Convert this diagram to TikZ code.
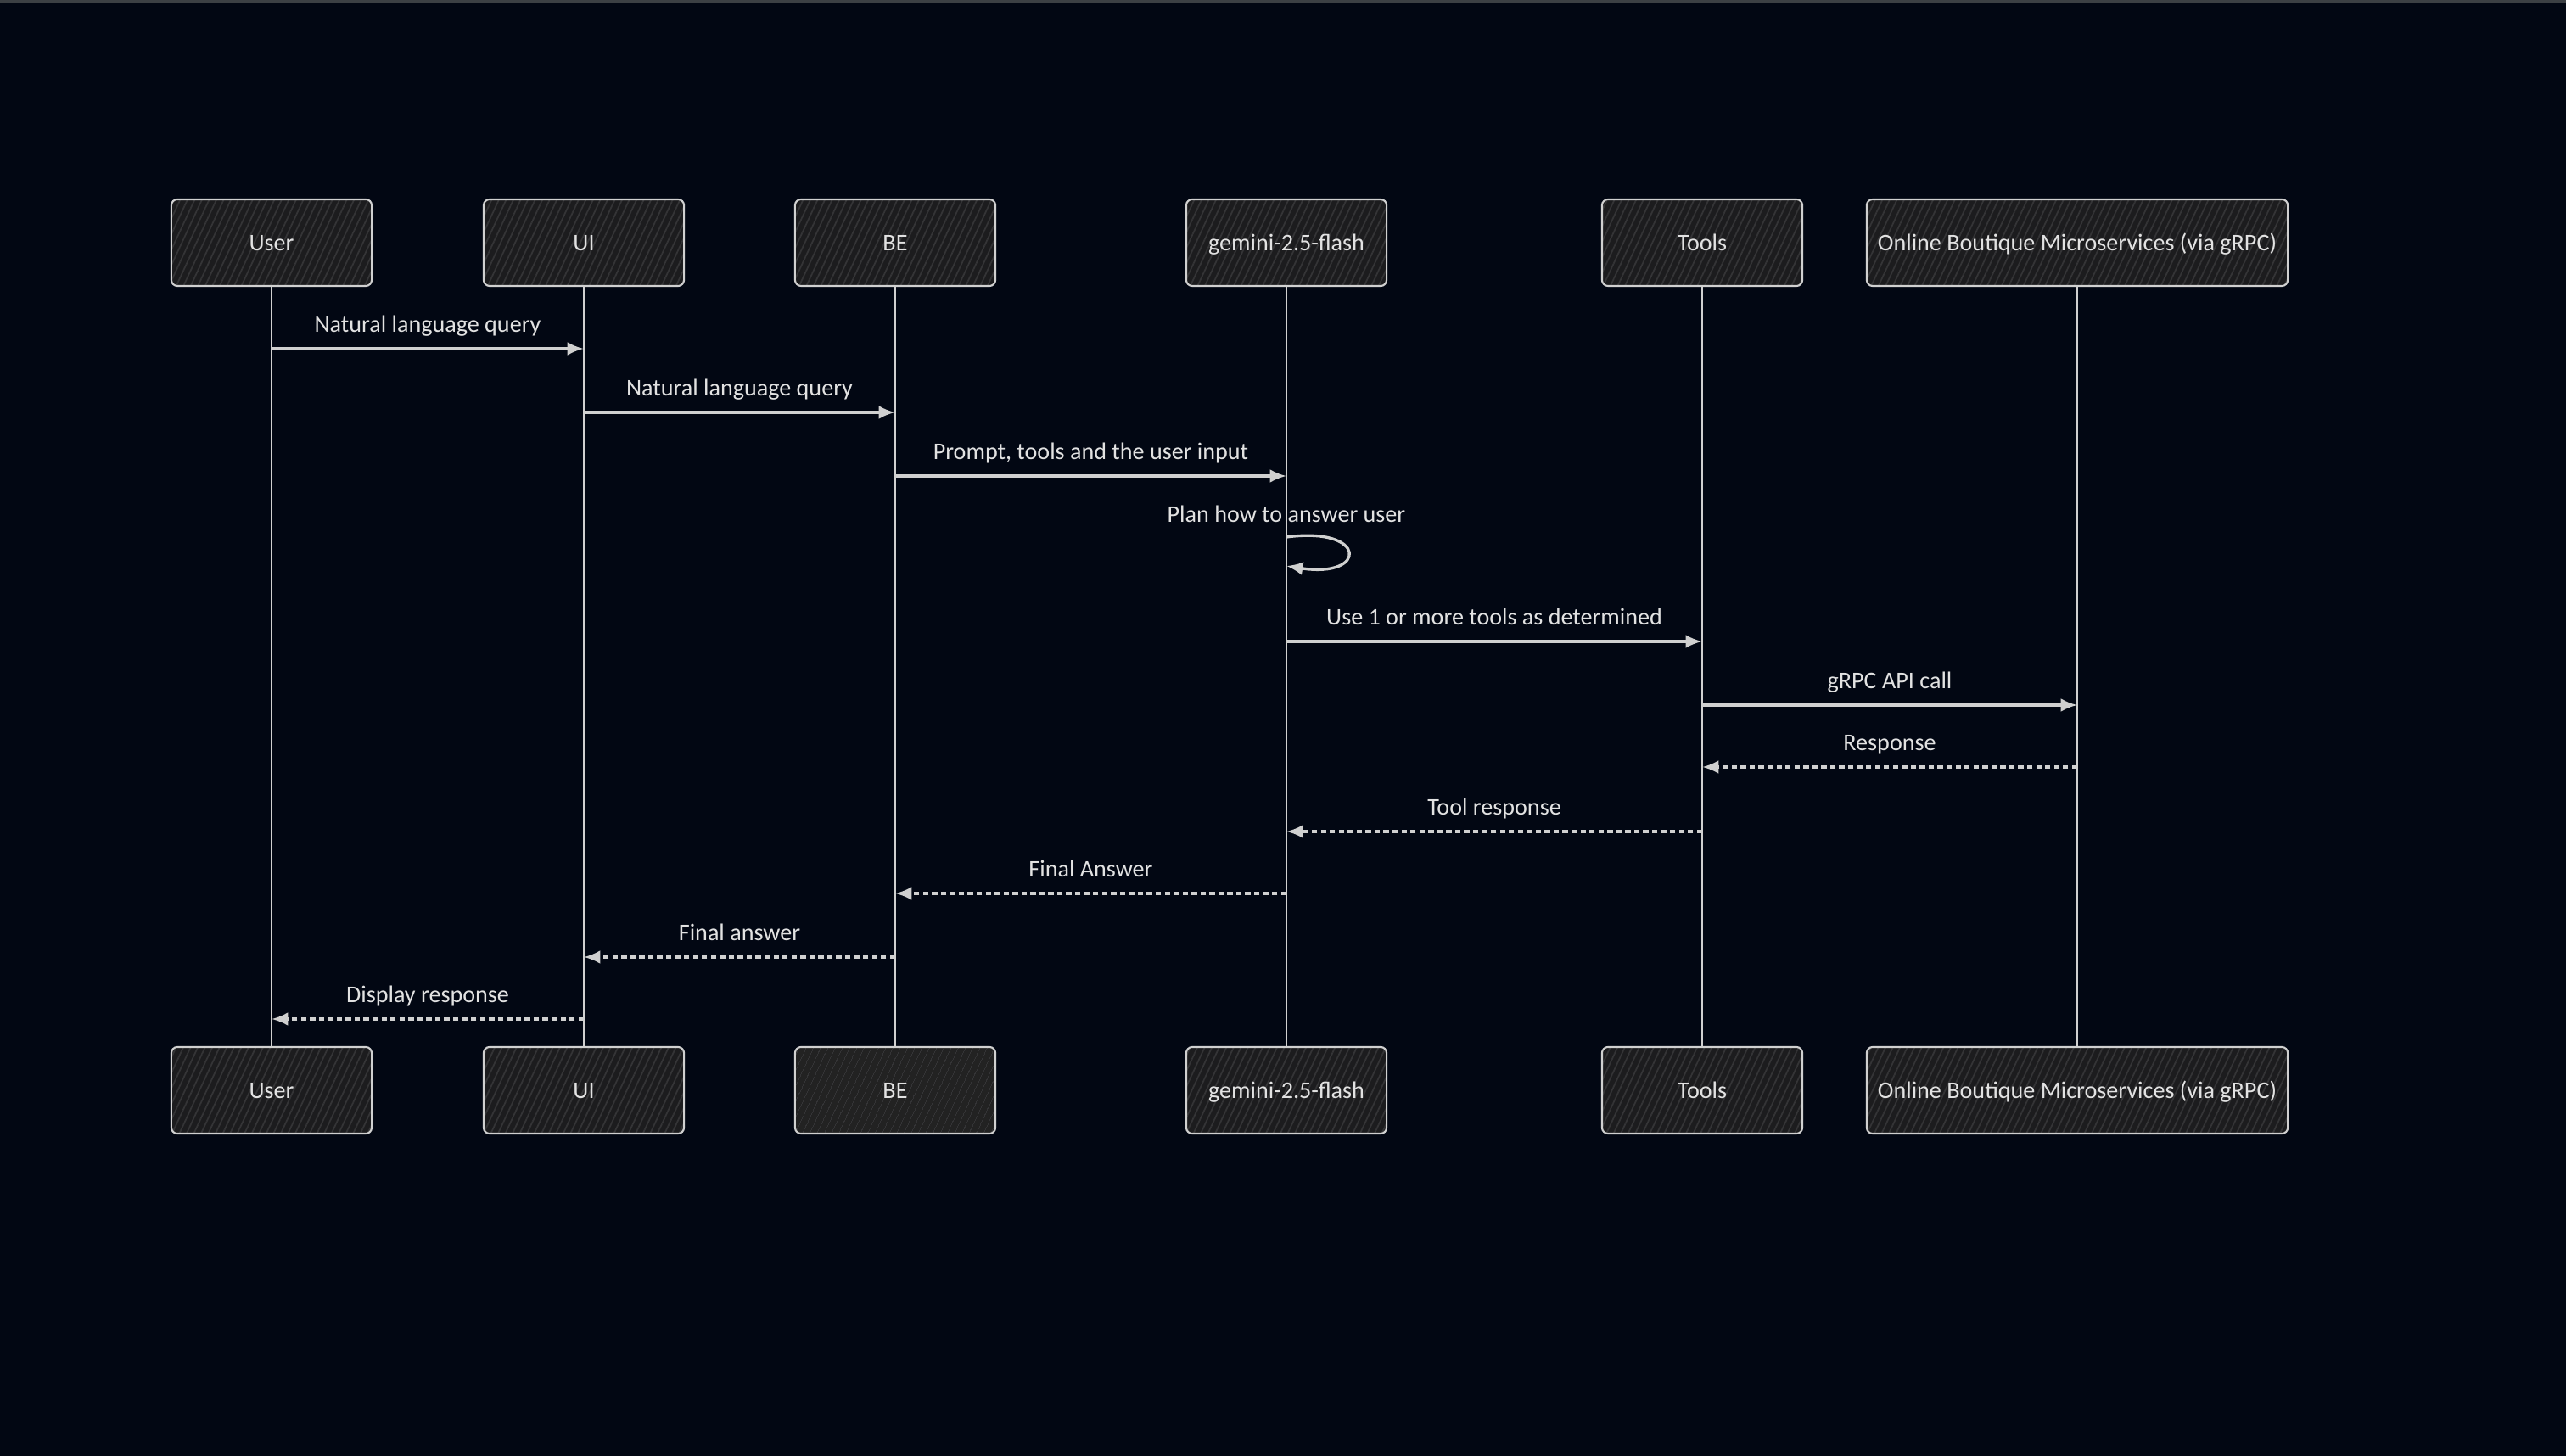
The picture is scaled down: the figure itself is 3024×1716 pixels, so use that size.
\documentclass[tikz,border=0pt]{standalone}
\usepackage{fontspec}
\setmainfont{Carlito}
\usetikzlibrary{arrows.meta,positioning,patterns.meta}

\definecolor{bgdark}{RGB}{2,7,19}
\definecolor{stripgray}{RGB}{60,64,68}
\definecolor{linegray}{RGB}{208,208,208}
\definecolor{textgray}{RGB}{226,226,226}
\definecolor{boxfill}{RGB}{28,28,30}
\definecolor{hatchgray}{RGB}{52,52,54}
\definecolor{solidfill}{RGB}{34,34,34}

\begin{document}
\begin{tikzpicture}[x=0.01cm,y=-0.01cm,
  actor/.style={rectangle,draw=linegray,line width=0.6pt,rounded corners=2pt,
    minimum width=2.36cm,minimum height=1.02cm,text=textgray,
    font=\fontsize{8}{10}\selectfont,text height=1.6ex,text depth=0.45ex,
    preaction={fill=boxfill},pattern={Lines[angle=65,distance=2.2pt,line width=0.5pt]},
    pattern color=hatchgray},
  plainactor/.style={actor,pattern={Lines[angle=65,distance=2.2pt,line width=0pt]},
    preaction={fill=solidfill}},
  life/.style={draw=linegray,line width=0.8pt},
  call/.style={draw=linegray,line width=0.95pt,-{Latex[length=5.5pt,width=4.5pt]}},
  reply/.style={call,dash pattern=on 1.8pt off 1.2pt},
  msgtext/.style={text=textgray,font=\fontsize{8}{10}\selectfont,
    text height=1.6ex,text depth=0.45ex,inner sep=0pt},
  msglabel/.style={msgtext,midway,yshift=0.29cm}]

% canvas
\useasboundingbox (0,0) rectangle (3024,1716);
\fill[bgdark] (0,0) rectangle (3024,1716);
\fill[stripgray] (0,0) rectangle (3024,3);

% participants (top)
\node[actor] (userT) at (320,286) {User};
\node[actor] (uiT) at (688,286) {UI};
\node[actor] (beT) at (1055,286) {BE};
\node[actor] (gemT) at (1516,286) {gemini-2.5-flash};
\node[actor] (toolT) at (2006,286) {Tools};
\node[actor,minimum width=4.96cm] (obT) at (2448,286) {Online Boutique Microservices (via gRPC)};

% participants (bottom)
\node[actor] (userB) at (320,1285) {User};
\node[actor] (uiB) at (688,1285) {UI};
\node[plainactor] (beB) at (1055,1285) {BE};
\node[actor] (gemB) at (1516,1285) {gemini-2.5-flash};
\node[actor] (toolB) at (2006,1285) {Tools};
\node[actor,minimum width=4.96cm] (obB) at (2448,1285) {Online Boutique Microservices (via gRPC)};

% lifelines
\draw[life] (userT.south) -- (userB.north);
\draw[life] (uiT.south) -- (uiB.north);
\draw[life] (beT.south) -- (beB.north);
\draw[life] (gemT.south) -- (gemB.north);
\draw[life] (toolT.south) -- (toolB.north);
\draw[life] (obT.south) -- (obB.north);

% message rows
\coordinate (r1) at (0,411);
\coordinate (r2) at (0,486);
\coordinate (r3) at (0,561);
\coordinate (r4) at (0,633);
\coordinate (r5) at (0,756);
\coordinate (r6) at (0,831);
\coordinate (r7) at (0,904);
\coordinate (r8) at (0,980);
\coordinate (r9) at (0,1053);
\coordinate (r10) at (0,1128);
\coordinate (r11) at (0,1201);

% requests
\draw[call] (userT |- r1) -- node[msglabel] {Natural language query} (uiT |- r1);
\draw[call] (uiT |- r2) -- node[msglabel] {Natural language query} (beT |- r2);
\draw[call] (beT |- r3) -- node[msglabel] {Prompt, tools and the user input} (gemT |- r3);
\draw[call] (gemT |- r4) node[msgtext,yshift=0.27cm] (planlbl) {Plan how to answer user}
  .. controls (1612,620) and (1612,682) .. ([yshift=-0.34cm]gemT |- r4);
\draw[call] (gemT |- r5) -- node[msglabel] {Use 1 or more tools as determined} (toolT |- r5);
\draw[call] (toolT |- r6) -- node[msglabel] {gRPC API call} (obT |- r6);

% responses
\draw[reply] (obT |- r7) -- node[msglabel] {Response} (toolT |- r7);
\draw[reply] (toolT |- r8) -- node[msglabel] {Tool response} (gemT |- r8);
\draw[reply] (gemT |- r9) -- node[msglabel] {Final Answer} (beT |- r9);
\draw[reply] (beT |- r10) -- node[msglabel] {Final answer} (uiT |- r10);
\draw[reply] (uiT |- r11) -- node[msglabel] {Display response} (userT |- r11);
\end{tikzpicture}
\end{document}
